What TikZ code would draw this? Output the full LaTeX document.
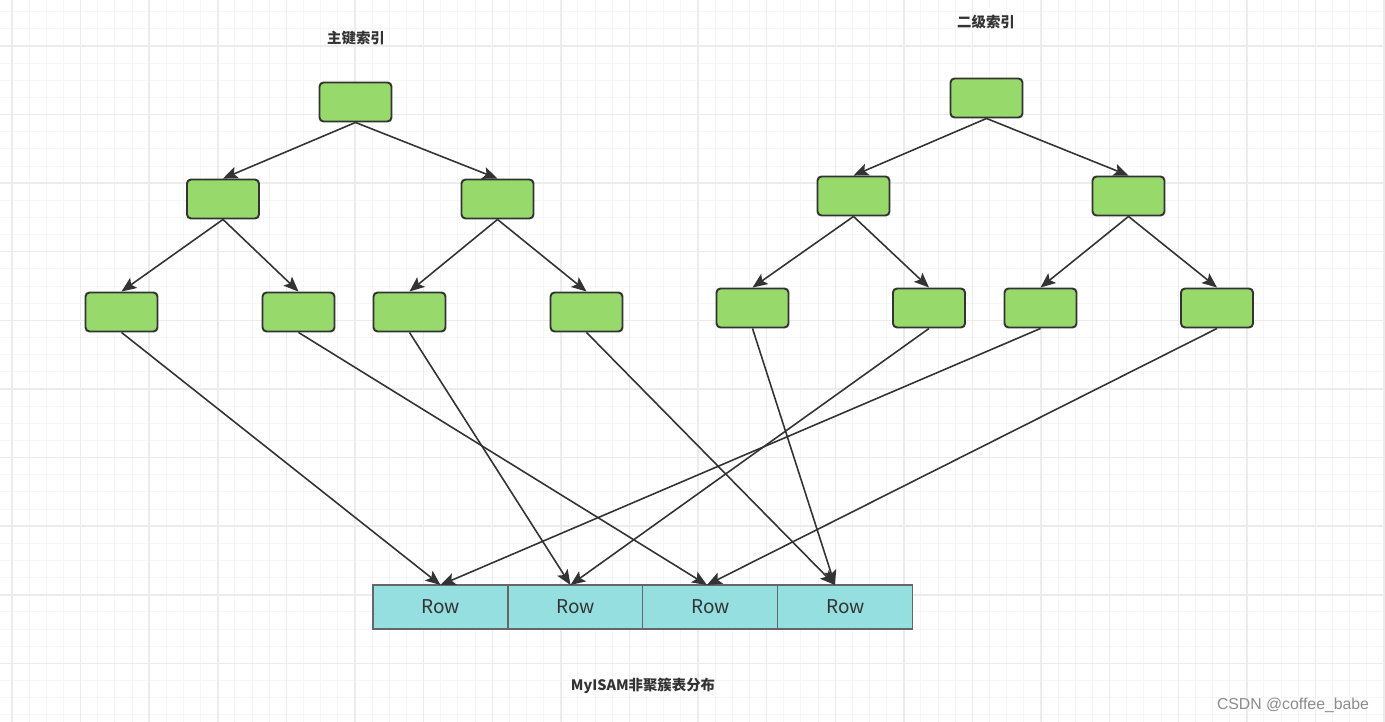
\documentclass[tikz,border=0pt]{standalone}
\usepackage{fontspec}
\setmainfont{Noto Sans CJK SC}
\newfontfamily\latinfont{Liberation Sans}
\usetikzlibrary{arrows.meta}
\usetikzlibrary{positioning}

\definecolor{leafgreen}{HTML}{97D96B}
\definecolor{rowcyan}{HTML}{95DFE0}
\definecolor{edgegray}{HTML}{333333}
\definecolor{gridminor}{HTML}{F6F6F6}
\definecolor{gridmajor}{HTML}{ECECEC}

\tikzset{
  keynode/.style={draw=edgegray, fill=leafgreen, rounded corners=0.08cm, line width=1.1pt, minimum width=1.44cm, minimum height=0.78cm, inner sep=0pt},
  rownode/.style={draw=black!60, fill=rowcyan, line width=0.6pt, minimum width=2.7cm, minimum height=0.88cm, inner sep=0pt, outer sep=0pt, text=edgegray, font=\fontsize{10.8}{13}\selectfont},
  link/.style={draw=edgegray, line width=0.9pt, -{Stealth[length=8.5pt,width=7pt,inset=1.8pt]}},
  title/.style={font=\fontsize{8.2}{10}\selectfont\bfseries, text=edgegray}
}

\begin{document}
\begin{tikzpicture}[x=0.02cm,y=-0.02cm]
\useasboundingbox (0,0) rectangle (1385,722);
\fill[white] (0,0) rectangle (1385,722);
\foreach \k in {0,...,81} \draw[gridminor,line width=0.6pt] ({-5.15+17.15*\k},0) -- ({-5.15+17.15*\k},722);
\foreach \k in {0,...,43} \draw[gridminor,line width=0.6pt] (0,{-5.45+17.15*\k}) -- (1385,{-5.45+17.15*\k});
\foreach \k in {0,...,20} \draw[gridmajor,line width=0.8pt] ({12+68.6*\k},0) -- ({12+68.6*\k},722);
\foreach \k in {0,...,11} \draw[gridmajor,line width=0.8pt] (0,{-22.6+68.6*\k}) -- (1385,{-22.6+68.6*\k});

\node[title] (pktitle) at (356,38) {主键索引};
\node[title] (sktitle) at (986,22) {二级索引};

\node[keynode] (pk) at (355.5,102) {};
\node[keynode] (pkl) at (223,199) {};
\node[keynode] (pkr) at (497.5,199) {};
\node[keynode] (pk1) at (121.5,312) {};
\node[keynode] (pk2) at (298.5,312) {};
\node[keynode] (pk3) at (409.5,312) {};
\node[keynode] (pk4) at (586.5,312) {};

\node[keynode] (sk) at (986.5,98) {};
\node[keynode] (skl) at (853.5,196) {};
\node[keynode] (skr) at (1128.5,196) {};
\node[keynode] (sk1) at (752.5,308) {};
\node[keynode] (sk2) at (929,308) {};
\node[keynode] (sk3) at (1040.5,308) {};
\node[keynode] (sk4) at (1217,308) {};

\node[rownode] (row1) at (440.5,607) {Row};
\node[rownode,right=0pt of row1] (row2) {Row};
\node[rownode,right=0pt of row2] (row3) {Row};
\node[rownode,right=0pt of row3] (row4) {Row};

\draw[link] (pk.south) -- (pkl.north);
\draw[link] (pk.south) -- (pkr.north);
\draw[link] (pkl.south) -- (pk1.north);
\draw[link] (pkl.south) -- (pk2.north);
\draw[link] (pkr.south) -- (pk3.north);
\draw[link] (pkr.south) -- (pk4.north);
\draw[link] (sk.south) -- (skl.north);
\draw[link] (sk.south) -- (skr.north);
\draw[link] (skl.south) -- (sk1.north);
\draw[link] (skl.south) -- (sk2.north);
\draw[link] (skr.south) -- (sk3.north);
\draw[link] (skr.south) -- (sk4.north);

\draw[link] (pk1.south) -- (row1.north);
\draw[link] (pk2.south) -- ([xshift=-0.07cm]row3.north);
\draw[link] (pk3.south) -- ([xshift=-0.1cm]row2.north);
\draw[link] (pk4.south) -- ([xshift=-0.21cm]row4.north);
\draw[link] (sk1.south) -- ([xshift=-0.21cm]row4.north);
\draw[link] (sk2.south) -- ([xshift=-0.1cm]row2.north);
\draw[link] (sk3.south) -- (row1.north);
\draw[link] (sk4.south) -- ([xshift=-0.07cm]row3.north);

\node[title] (caption) at (643,686) {MyISAM非聚簇表分布};
\node[font=\latinfont\fontsize{9}{11}\selectfont, text=black!45] (mark) at (1293,705) {CSDN @coffee\_babe};
\end{tikzpicture}
\end{document}
